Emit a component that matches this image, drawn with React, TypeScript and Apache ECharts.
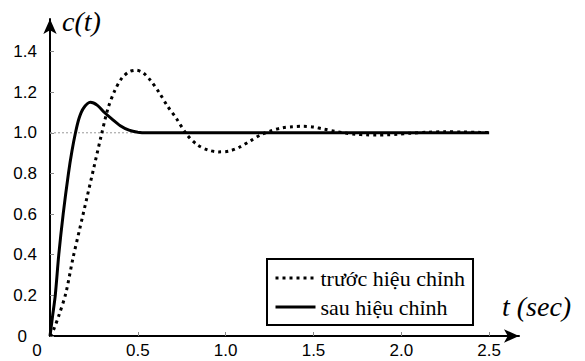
import React, { useEffect, useRef } from "react";
import * as echarts from "echarts";

// Step responses
const tBefore = [0, 0.02, 0.05, 0.09, 0.13, 0.17, 0.21, 0.25, 0.29, 0.33, 0.37, 0.41, 0.45, 0.49, 0.53, 0.57, 0.62, 0.67, 0.72, 0.78, 0.84, 0.9, 0.96, 1.02, 1.08, 1.14, 1.2, 1.26, 1.32, 1.38, 1.44, 1.5, 1.56, 1.62, 1.68, 1.74, 1.8, 1.86, 1.92, 1.98, 2.05, 2.15, 2.25, 2.35, 2.45, 2.5];
const cBefore = [0, 0.03, 0.1, 0.21, 0.38, 0.53, 0.68, 0.83, 0.98, 1.12, 1.21, 1.27, 1.3, 1.308, 1.295, 1.26, 1.2, 1.13, 1.07, 0.99, 0.94, 0.915, 0.906, 0.91, 0.93, 0.96, 0.99, 1.01, 1.024, 1.03, 1.032, 1.028, 1.018, 1.008, 0.999, 0.993, 0.99, 0.989, 0.99, 0.993, 0.998, 1.003, 1.005, 1.004, 1.002, 1.002];

const tAfter = [0, 0.015, 0.03, 0.05, 0.075, 0.105, 0.125, 0.145, 0.165, 0.19, 0.23, 0.27, 0.31, 0.35, 0.4, 0.45, 0.5, 0.55, 2.5];
const cAfter = [0, 0.1, 0.2, 0.4, 0.6, 0.8, 0.91, 1.0, 1.07, 1.12, 1.15, 1.135, 1.1, 1.07, 1.035, 1.013, 1.003, 1.0, 1.0];

const refT = [0, 2.5];
const refC = [1, 1];

const seriesNames = ["trước hiệu chỉnh", "sau hiệu chỉnh"];
const yTitle = "c(t)";
const xTitle = "t (sec)";

const SANS = "'Liberation Sans', Arial, sans-serif";
const SERIF = "'Liberation Serif', 'Times New Roman', serif";

const zip = (a: number[], b: number[]) => a.map((v, i) => [v, b[i]]);

export default function App() {
  const ref = useRef<HTMLDivElement>(null);
  useEffect(() => {
    if (!ref.current) return;
    const chart = echarts.init(ref.current, null, { renderer: "svg" });
    const labelFont = { fontFamily: SANS, fontSize: 17, color: "#000" };
    chart.setOption({
      animation: false,
      backgroundColor: "#fff",
      grid: { left: 50, right: 66, top: 19, bottom: 25 },
      xAxis: {
        type: "value",
        min: 0,
        max: 2.67,
        interval: 0.5,
        splitLine: { show: false },
        axisLine: { symbol: ["none", "arrow"], symbolSize: [10, 15], lineStyle: { color: "#000", width: 2 } },
        axisTick: { inside: true, length: 4, lineStyle: { color: "#888", width: 1 } },
        axisLabel: {
          ...labelFont,
          margin: 6,
          showMaxLabel: false,
          formatter: (v: number) => (v === 0 ? "{z|0}" : v.toFixed(1)),
          rich: { z: { ...labelFont, padding: [0, 26, 0, 0] } },
        },
      },
      yAxis: {
        type: "value",
        min: 0,
        max: 1.56,
        interval: 0.2,
        splitLine: { show: false },
        axisLine: { symbol: ["none", "arrow"], symbolSize: [10, 15], lineStyle: { color: "#000", width: 2 } },
        axisTick: { inside: true, length: 4, lineStyle: { color: "#888", width: 1 } },
        axisLabel: {
          ...labelFont,
          margin: 13,
          showMaxLabel: false,
          formatter: (v: number) => (v === 0 ? "{z|0}" : v.toFixed(1)),
          rich: { z: { ...labelFont, padding: [0, 10, 0, 0] } },
        },
      },
      legend: {
        data: seriesNames,
        orient: "vertical",
        left: 267,
        top: 259,
        padding: [8, 8, 7, 7],
        itemWidth: 40,
        itemHeight: 14,
        itemGap: 7,
        borderColor: "#000",
        borderWidth: 2,
        backgroundColor: "#fff",
        itemStyle: { opacity: 0 },
        lineStyle: { width: 3 },
        textStyle: { fontFamily: SERIF, fontSize: 22, color: "#000" },
      },
      graphic: [
        {
          type: "text",
          x: 62,
          y: 7,
          style: { text: yTitle, fontFamily: SERIF, fontStyle: "italic", fontSize: 28, fill: "#000" },
        },
        {
          type: "text",
          x: 502,
          y: 292,
          style: { text: xTitle, fontFamily: SERIF, fontStyle: "italic", fontSize: 28, fill: "#000" },
        },
      ],
      series: [
        {
          name: "ref",
          type: "line",
          data: zip(refT, refC),
          showSymbol: false,
          symbol: "none",
          silent: true,
          lineStyle: { color: "#999", width: 1, type: [2, 2] },
          z: 1,
        },
        {
          name: seriesNames[1],
          type: "line",
          data: zip(tAfter, cAfter),
          symbol: "none",
          smooth: 0.3,
          color: "#000",
          lineStyle: { color: "#000", width: 3 },
          z: 2,
        },
        {
          name: seriesNames[0],
          type: "line",
          data: zip(tBefore, cBefore),
          symbol: "none",
          smooth: 0.3,
          color: "#000",
          lineStyle: { color: "#000", width: 3, type: [3, 4], cap: "butt" },
          z: 3,
        },
      ],
    });
    return () => chart.dispose();
  }, []);
  return (
    <div
      ref={ref}
      style={{ position: "fixed", left: 0, top: 0, width: 585, height: 361, background: "#fff" }}
    />
  );
}
